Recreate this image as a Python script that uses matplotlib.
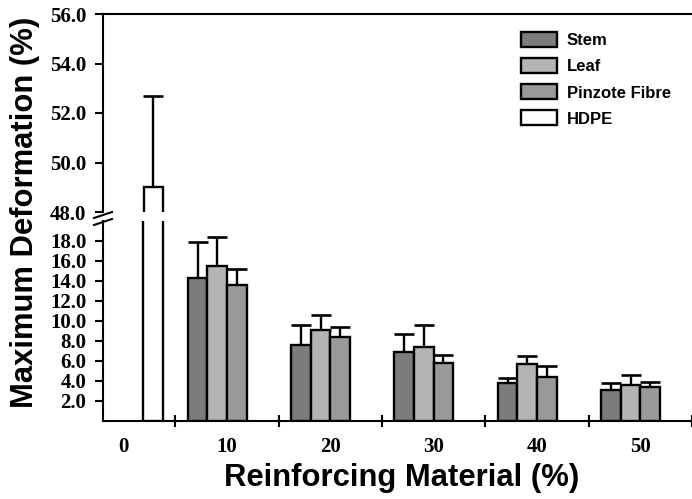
import matplotlib
matplotlib.use("Agg")
import matplotlib.pyplot as plt
from matplotlib.lines import Line2D
import numpy as np

# ---- data ----
categories = ["0", "10", "20", "30", "40", "50"]
stem = [14.3, 7.6, 6.9, 3.8, 3.1]
stem_err = [3.6, 2.0, 1.8, 0.5, 0.7]
leaf = [15.5, 9.1, 7.4, 5.7, 3.6]
leaf_err = [2.9, 1.5, 2.2, 0.8, 1.0]
pinzote = [13.6, 8.4, 5.8, 4.4, 3.4]
pinzote_err = [1.6, 1.0, 0.8, 1.1, 0.5]
hdpe = [49.0]
hdpe_err = [3.7]
upper_ticks = [48.0, 50.0, 52.0, 54.0, 56.0]
lower_ticks = [2.0, 4.0, 6.0, 8.0, 10.0, 12.0, 14.0, 16.0, 18.0]

W, H = 692, 499
fig = plt.figure(figsize=(W / 100, H / 100), dpi=100)

def fx(px):
    return px / W

def fy(py):
    return (H - py) / H

left_px, right_px = 103, 692
ax_up = fig.add_axes([fx(left_px), fy(212), fx(right_px - left_px), fy(14) - fy(212)])
ax_lo = fig.add_axes([fx(left_px), fy(420.7), fx(right_px - left_px), fy(221) - fy(420.7)])

col_stem = "#7c7c7c"
col_leaf = "#b4b4b4"
col_pinz = "#9a9a9a"
col_hdpe = "#ffffff"

bw = 0.19
x_fib = np.arange(1, len(categories))
x_h = np.array([0])
offs = [-1.5 * bw, -0.5 * bw, 0.5 * bw, 1.5 * bw]

series = [
    (x_fib + offs[0], stem, stem_err, col_stem, "Stem"),
    (x_fib + offs[1], leaf, leaf_err, col_leaf, "Leaf"),
    (x_fib + offs[2], pinzote, pinzote_err, col_pinz, "Pinzote Fibre"),
    (x_h + offs[3], hdpe, hdpe_err, col_hdpe, "HDPE"),
]

lw = 1.7
handles = []
for ax in (ax_up, ax_lo):
    for xs, vals, errs, col, lab in series:
        b = ax.bar(xs, vals, width=bw, color=col, edgecolor="black", linewidth=lw,
                   label=lab, zorder=3)
        ax.errorbar(xs, vals, yerr=[np.zeros(len(vals)), errs], fmt="none",
                    ecolor="black", elinewidth=lw, capsize=7.2, capthick=1.9, zorder=2)
        if ax is ax_up:
            handles.append(b)

xmin, xmax = -0.2, (692 - 124) / 104
for ax in (ax_up, ax_lo):
    ax.set_xlim(xmin, xmax)
    ax.spines["right"].set_visible(False)
    for s in ax.spines.values():
        s.set_linewidth(1.5)
    ax.tick_params(axis="y", direction="out", length=6, width=1.5, pad=6,
                   labelsize=15)

ax_up.set_ylim(48, 56)
ax_up.set_yticks(upper_ticks)
ax_up.set_yticklabels([f"{v:.1f}" for v in upper_ticks])
ax_up.spines["bottom"].set_visible(False)
ax_up.set_xticks([])

ax_lo.set_ylim(0, 20)
ax_lo.set_yticks(lower_ticks)
ax_lo.set_yticklabels([f"{v:.1f}" for v in lower_ticks])
ax_lo.spines["top"].set_visible(False)
ax_lo.set_xticks(np.arange(len(categories)))
ax_lo.set_xticklabels(categories)
ax_lo.set_xticks(np.arange(len(categories)) + 0.5, minor=True)
ax_lo.tick_params(axis="x", which="major", length=0, pad=12, labelsize=15)
ax_lo.tick_params(axis="x", which="minor", direction="inout", length=9, width=1.5)

for ax in (ax_up, ax_lo):
    for t in ax.get_yticklabels() + ax.get_xticklabels():
        t.set_fontfamily("Liberation Serif")
        t.set_fontweight("bold")

# break marks on the left spine
for y0 in (218, 225):
    fig.add_artist(Line2D([fx(94), fx(112)], [fy(y0), fy(y0 - 6)], color="black",
                          linewidth=1.5, transform=fig.transFigure))

fig.legend(handles=handles, loc="upper left", bbox_to_anchor=(fx(521), fy(32)),
           frameon=False, prop={"family": "Liberation Sans", "weight": "bold", "size": 12},
           handlelength=2.15, handleheight=1.0, labelspacing=0.6, handletextpad=0.6,
           borderaxespad=0, borderpad=0)

fig.text(fx(402), fy(478), "Reinforcing Material (%)", ha="center", va="center",
         fontsize=22.3, fontweight="bold", family="Liberation Sans")
fig.text(fx(25), fy(212), "Maximum Deformation (%)", ha="center", va="center",
         rotation=90, fontsize=22.3, fontweight="bold", family="Liberation Sans")

fig.savefig("out.png", dpi=100)
